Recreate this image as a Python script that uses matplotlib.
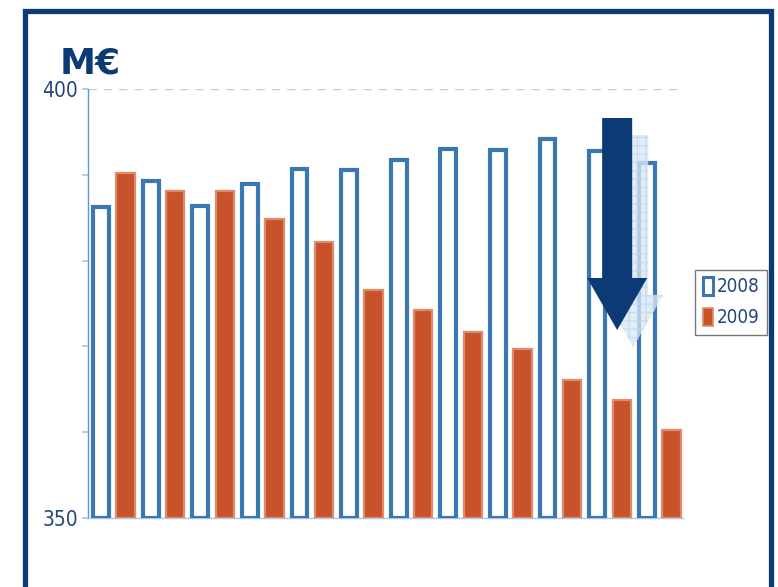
import numpy as np
import matplotlib
matplotlib.use("Agg")
import matplotlib.pyplot as plt
from matplotlib import font_manager
from matplotlib.patches import FancyArrow, Rectangle, Patch

# --- DATA (M€) ---
periods = list(range(1, 13))
values_2008 = [386.2, 389.3, 386.4, 388.9, 390.7, 390.6, 391.7, 393.0, 392.9, 394.2, 392.8, 391.4]
values_2009 = [390.2, 388.1, 388.1, 384.8, 382.2, 376.6, 374.2, 371.7, 369.7, 366.1, 363.8, 360.3]
y_min, y_max = 350, 400
y_ticks = [350, 360, 370, 380, 390, 400]
y_labels = ["350", "", "", "", "", "400"]

NAVY = "#0b3a75"
TEXT = "#24467f"
LIGHT = "#5b9bd5"
BLUE_EDGE = "#3a77b3"
ORANGE = "#c8532a"
ORANGE_EDGE = "#e08a6c"

# narrow face for the numbers, if one is around
names = {f.name for f in font_manager.fontManager.ttflist}
narrow = [n for n in ["Liberation Sans Narrow", "DejaVu Sans Condensed"] if n in names]
cond = [f for f in font_manager.fontManager.ttflist
        if f.name == "DejaVu Sans" and str(f.stretch) in ("condensed", "semi-condensed")]
num_font = dict(family=narrow[:1] + ["DejaVu Sans"])
if not narrow and cond:
    num_font["stretch"] = "condensed"

W, H = 778, 587
fig = plt.figure(figsize=(W / 100, H / 100), dpi=100)

# outer frame
fig.patches.append(Rectangle((24.5 / W, -0.05), (770.5 - 24.5) / W, 1.05 - 10.5 / H,
                             transform=fig.transFigure, fill=False,
                             edgecolor=NAVY, lw=3.8, zorder=0))

ax = fig.add_axes([88 / W, 69 / H, 595 / W, 429 / H])
x = np.arange(len(periods))

ax.bar(x - 0.25, np.array(values_2008) - y_min, bottom=y_min, width=0.32,
       facecolor="white", edgecolor=BLUE_EDGE, lw=3.0, label="2008", zorder=3)
ax.bar(x + 0.245, np.array(values_2009) - y_min, bottom=y_min, width=0.37,
       facecolor=ORANGE, edgecolor=ORANGE_EDGE, lw=1.6, label="2009", zorder=3)

ax.set_xlim(-0.512, 11.48)
ax.set_ylim(y_min, y_max)
ax.set_yticks(y_ticks)
ax.set_yticklabels(y_labels, fontsize=15, color=TEXT, **num_font)
ax.set_xticks([])
ax.tick_params(axis="y", direction="out", length=4, width=1.2, color="#a9c4e4", pad=3)
for s in ["top", "right"]:
    ax.spines[s].set_visible(False)
ax.spines["left"].set_color(LIGHT)
ax.spines["left"].set_linewidth(1.0)
ax.spines["bottom"].set_color("#a9c4e4")
ax.spines["bottom"].set_linewidth(1.0)
ax.axhline(y_max, xmin=0, xmax=0.995, color="#b9cfe8", lw=1.0, ls=(0, (6, 5)), zorder=1)

# downward arrow with a faded shadow
ax_px = 49.6
ay = 8.58
cx = (617 - 101) / ax_px - 0.25
shaft = 30 / ax_px
head = 60 / ax_px
top = y_max - (118 - 89) / ay
tip = y_max - (330 - 89) / ay
head_len = 52 / ay
dx_s, dy_s = 16 / ax_px, -17 / ay
ax.add_patch(FancyArrow(cx + dx_s, top + dy_s, 0, tip - top, width=shaft, head_width=head,
                        head_length=head_len, length_includes_head=True,
                        facecolor="#d8e6f4", edgecolor="#c2d7ec", lw=0, alpha=0.75,
                        hatch="++", zorder=4))
ax.add_patch(FancyArrow(cx, top, 0, tip - top, width=shaft, head_width=head,
                        head_length=head_len, length_includes_head=True,
                        facecolor=NAVY, edgecolor="none", zorder=5))

fig.text(60 / W, 1 - 74 / H, "M€", fontsize=26, fontweight="bold", color=NAVY,
         family=['DejaVu Sans'])

handles = [Patch(facecolor="white", edgecolor=BLUE_EDGE, lw=2.2),
           Patch(facecolor=ORANGE, edgecolor=ORANGE_EDGE, lw=1.2)]
prop = dict(size=13.5, **num_font)
leg = fig.legend(handles, ["2008", "2009"], loc="center left",
                 bbox_to_anchor=(695 / W, 1 - 302 / H), frameon=True, fancybox=False,
                 shadow=False, prop=prop, handlelength=0.55, handleheight=1.1,
                 handletextpad=0.2, borderpad=0.4, labelspacing=0.6, borderaxespad=0)
leg.get_frame().set_edgecolor("#555555")
leg.get_frame().set_linewidth(1.0)
for t in leg.get_texts():
    t.set_color(TEXT)

fig.savefig("out.png", dpi=100)
